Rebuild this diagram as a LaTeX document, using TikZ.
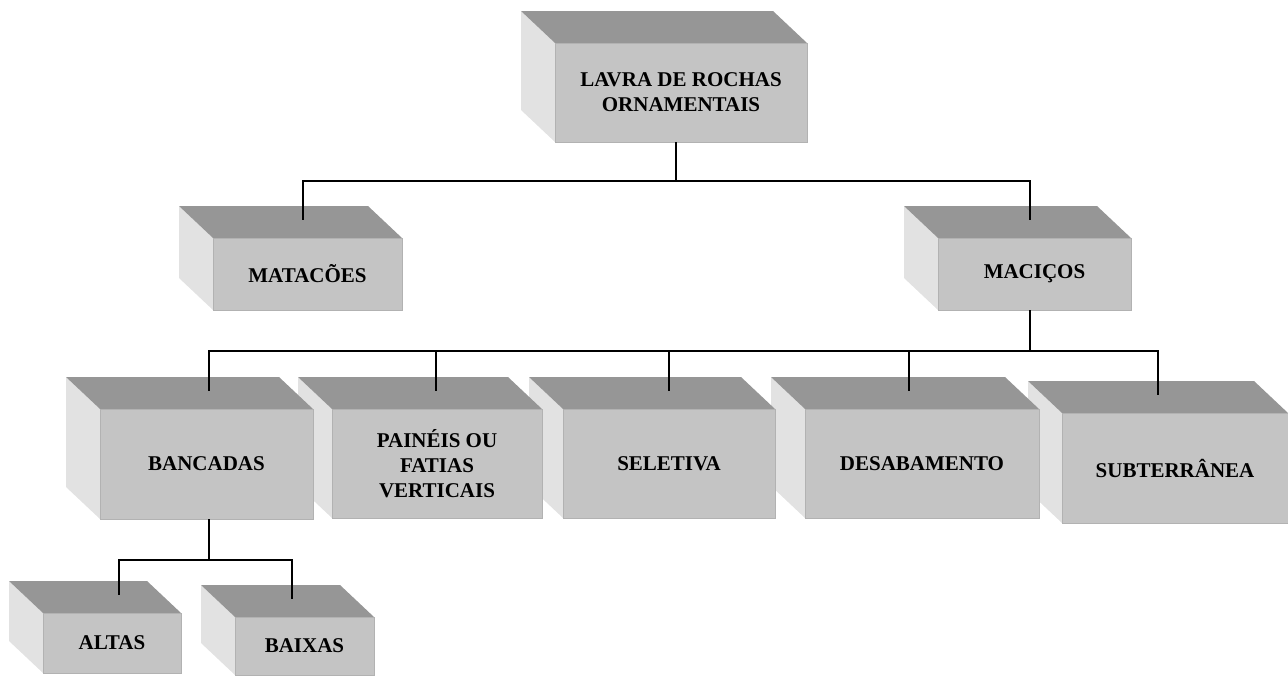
\documentclass[tikz,border=0pt]{standalone}
\usepackage{fontspec}
\setmainfont{Liberation Serif}

\definecolor{facetopo}{RGB}{150,150,150}
\definecolor{facefrente}{RGB}{196,196,196}
\definecolor{facelado}{RGB}{226,226,226}
\definecolor{borda}{RGB}{178,178,178}

\tikzset{
	frente/.style = {fill=facefrente, draw=borda, line width=1pt, inner sep=0pt, outer sep=0pt,
		align=center, font=\fontsize{21}{25}\selectfont\bfseries, anchor=north west},
	linha/.style = {line width=1.6pt, black}
}

% caixa 3D: nome, x, y (canto frontal), largura, altura, desvio da linha, texto
\newcommand{\caixa}[7]{
	\fill[facelado] (#2-34,#3-32) -- (#2,#3) -- (#2,#3+#5) -- (#2-34,#3+#5-32) -- cycle;
	\fill[facetopo] (#2-34,#3-32) -- (#2+#4-34,#3-32) -- (#2+#4,#3) -- (#2,#3) -- cycle;
	\node[frente, minimum width=#4pt, minimum height=#5pt] (#1) at (#2,#3) {#7};
	\coordinate (#1-t) at (#2+#4/2+#6,#3-18);
	\coordinate (#1-b) at (#2+#4/2+#6,#3+#5);
}

\begin{document}
\begin{tikzpicture}[x=1pt, y=-1pt]
	\useasboundingbox (0,0) rectangle (1288,675);

	\caixa{lavra}{555}{43}{252}{99}{-5}{LAVRA DE ROCHAS\\ORNAMENTAIS}
	\caixa{matacoes}{213}{238}{189}{72}{-4.5}{MATAC\~OES}
	\caixa{macicos}{938}{238}{193}{72}{-4.5}{MACI\c{C}OS}
	% da direita para a esquerda, para as frentes ficarem por cima
	\caixa{subterranea}{1062}{413}{226}{110}{-17}{SUBTERR\^ANEA}
	\caixa{desabamento}{805}{409}{234}{109}{-13}{DESABAMENTO}
	\caixa{seletiva}{563}{409}{212}{109}{0}{SELETIVA}
	\caixa{paineis}{332}{409}{210}{109}{-1}{PAIN\'EIS OU\\FATIAS\\VERTICAIS}
	\caixa{bancadas}{100}{409}{213}{110}{2.5}{BANCADAS}
	\caixa{baixas}{235}{617}{139}{58}{-12.5}{BAIXAS}
	\caixa{altas}{43}{613}{138}{60}{7}{ALTAS}

	% ligacoes
	\draw[linha] (lavra-b) -- ++(0,39) -| (matacoes-t);
	\draw[linha] (lavra-b) -- ++(0,39) -| (macicos-t);
	\foreach \filho in {bancadas,paineis,seletiva,desabamento,subterranea}
		\draw[linha] (macicos-b) -- ++(0,41) -| (\filho-t);
	\draw[linha] (bancadas-b) -- ++(0,41) -| (altas-t);
	\draw[linha] (bancadas-b) -- ++(0,41) -| (baixas-t);
\end{tikzpicture}
\end{document}
